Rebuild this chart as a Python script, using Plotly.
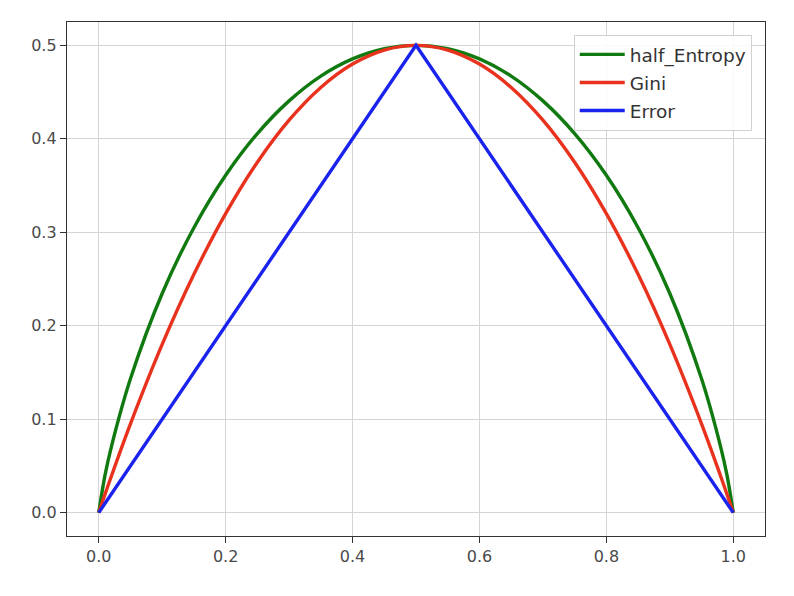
import plotly.graph_objects as go

p = [0.0, 0.01, 0.02, 0.05, 0.1, 0.15, 0.2, 0.25, 0.3, 0.35, 0.4, 0.45, 0.5,
     0.55, 0.6, 0.65, 0.7, 0.75, 0.8, 0.85, 0.9, 0.95, 0.98, 0.99, 1.0]
half_entropy = [0.0, 0.0404, 0.0707, 0.1432, 0.2345, 0.3049, 0.361, 0.4056, 0.4406, 0.4671, 0.4855, 0.4964, 0.5,
                0.4964, 0.4855, 0.4671, 0.4406, 0.4056, 0.361, 0.3049, 0.2345, 0.1432, 0.0707, 0.0404, 0.0]
gini = [0.0, 0.0198, 0.0392, 0.095, 0.18, 0.255, 0.32, 0.375, 0.42, 0.455, 0.48, 0.495, 0.5,
        0.495, 0.48, 0.455, 0.42, 0.375, 0.32, 0.255, 0.18, 0.095, 0.0392, 0.0198, 0.0]
error_p = [0.0, 0.5, 1.0]
error = [0.0, 0.5, 0.0]

x_ticks = [0.0, 0.2, 0.4, 0.6, 0.8, 1.0]
x_tick_labels = ["0.0", "0.2", "0.4", "0.6", "0.8", "1.0"]
y_ticks = [0.0, 0.1, 0.2, 0.3, 0.4, 0.5]
y_tick_labels = ["0.0", "0.1", "0.2", "0.3", "0.4", "0.5"]

fig = go.Figure()
fig.add_trace(go.Scatter(x=p, y=half_entropy, mode="lines", name="half_Entropy", legendgroup="a",
                         line=dict(color="#107a10", width=3.4, shape="spline")))
fig.add_trace(go.Scatter(x=p, y=gini, mode="lines", name="Gini", legendgroup="b",
                         line=dict(color="#e8321e", width=3.4, shape="spline")))
fig.add_trace(go.Scatter(x=error_p, y=error, mode="lines", name="Error", legendgroup="c",
                         line=dict(color="#1a22ee", width=3.4)))

axis_common = dict(showgrid=True, gridcolor="#d4d4d4", gridwidth=1,
                   showline=True, linecolor="#333333", linewidth=1.3, mirror=True,
                   ticks="outside", ticklen=6, tickcolor="#333333", zeroline=False,
                   automargin=False,
                   tickfont=dict(family="DejaVu Sans", size=16, color="#4a4a4a"))

fig.update_xaxes(range=[-0.05, 1.05], tickvals=x_ticks, ticktext=x_tick_labels, **axis_common)
fig.update_yaxes(range=[-0.025, 0.525], tickvals=y_ticks, ticktext=y_tick_labels, **axis_common)

fig.update_layout(
    width=794, height=596,
    margin=dict(l=59, r=37, t=14, b=68),
    plot_bgcolor="white", paper_bgcolor="white",
    showlegend=True,
    legend=dict(x=0.981, y=0.975, xanchor="right", yanchor="top",
                bgcolor="rgba(255,255,255,0.85)", bordercolor="#d0d0d0", borderwidth=1,
                font=dict(family="DejaVu Sans", size=18.5, color="#333333"),
                itemwidth=45, tracegroupgap=1),
)

fig.write_html("out.html")
